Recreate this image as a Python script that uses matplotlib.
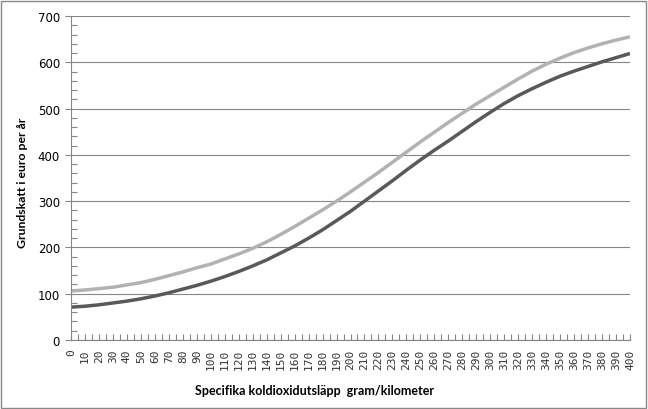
import matplotlib
matplotlib.use("Agg")
import matplotlib.pyplot as plt
from matplotlib.patches import Rectangle
from matplotlib.ticker import MultipleLocator

x_values = list(range(0, 401, 10))
upper_series = [106, 108, 111, 114, 119, 124, 131, 139, 147, 156,
                164, 175, 186, 198, 212, 228, 245, 263, 281, 300,
                320, 341, 362, 384, 406, 428, 449, 470, 490, 510,
                528, 546, 564, 581, 596, 609, 621, 631, 640, 648, 655]
lower_series = [71, 73, 76, 80, 84, 89, 95, 102, 110, 118,
                127, 137, 148, 160, 173, 188, 203, 220, 238, 258,
                278, 300, 322, 344, 367, 389, 410, 430, 451, 472,
                492, 511, 528, 543, 557, 570, 581, 591, 601, 610, 619]
x_tick_labels = [str(v) for v in x_values]
y_ticks = [0, 100, 200, 300, 400, 500, 600, 700]

fig = plt.figure(figsize=(6.48, 4.10), dpi=100)
fig.patch.set_facecolor("white")
fig.add_artist(Rectangle((0.002, 0.003), 0.995, 0.993, transform=fig.transFigure,
                         fill=False, edgecolor="#888888", linewidth=1.0))

ax = fig.add_axes([71/648, 1-341/410, (630-71)/648, (341-17)/410])
grid_c = "#868686"
ax.set_xlim(0, 400)
ax.set_ylim(0, 700)
ax.set_yticks(y_ticks)
ax.yaxis.set_minor_locator(MultipleLocator(20))
ax.set_xticks(x_values)
ax.set_xticklabels(x_tick_labels, rotation=90, fontsize=8, family="DejaVu Sans Mono",
                   color="#333333")
ax.xaxis.set_minor_locator(MultipleLocator(5))
ax.grid(axis="y", which="major", color=grid_c, linewidth=0.8)
ax.set_axisbelow(True)
for s in ["top", "right"]:
    ax.spines[s].set_visible(False)
for s in ["left", "bottom"]:
    ax.spines[s].set_color(grid_c)
    ax.spines[s].set_linewidth(0.8)

ax.tick_params(axis="y", which="major", direction="out", length=4, color=grid_c,
               labelsize=8.5, pad=4, width=0.8)
ax.tick_params(axis="y", which="minor", direction="in", length=4, color=grid_c, width=0.8)
ax.tick_params(axis="x", which="both", direction="in", length=4, color=grid_c,
               width=0.8, pad=6)
for lab in ax.get_yticklabels():
    lab.set_family("DejaVu Sans")

ax.plot(x_values, upper_series, color="#b2b2b2", linewidth=2.5, solid_capstyle="butt")
ax.plot(x_values, lower_series, color="#595959", linewidth=2.5, solid_capstyle="butt")

fig.text(0.486, 0.046, "Specifika koldioxidutsläpp  gram/kilometer", ha="center", va="center",
         fontsize=9, fontweight="bold", family="Lato")
fig.text(0.034, 0.555, "Grundskatt i euro per år", ha="center", va="center", rotation=90,
         fontsize=8.8, fontweight="bold", family="Lato")

fig.savefig("out.png", dpi=100, facecolor="white")
